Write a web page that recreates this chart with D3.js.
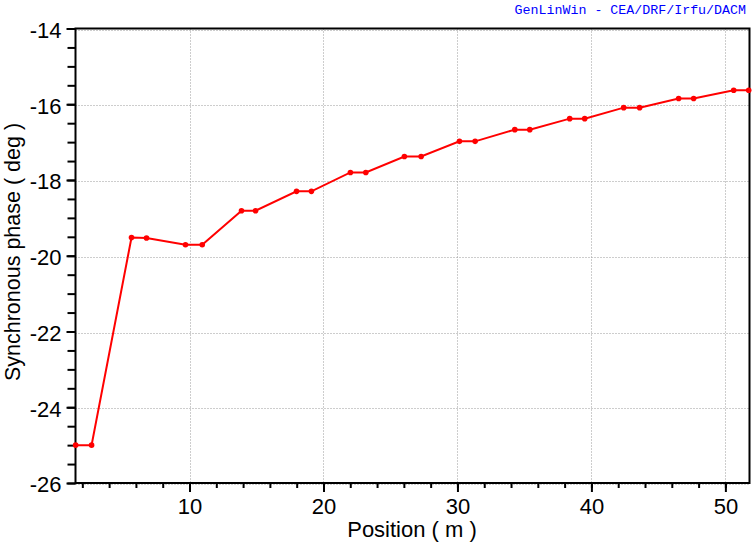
<!DOCTYPE html>
<html>
<head>
<meta charset="utf-8">
<script src="https://cdn.jsdelivr.net/npm/d3@7"></script>
<style>
  html, body { margin: 0; padding: 0; background: #fff; }
  svg { display: block; }
</style>
</head>
<body>
<script>
// Data
const positions = [1.5, 2.69, 5.67, 6.79, 9.70, 10.95, 13.88, 14.93, 17.99, 19.10, 22.01, 23.16, 26.04, 27.29, 30.15, 31.32, 34.28, 35.40, 38.38, 39.50, 42.41, 43.60, 46.51, 47.63, 50.62, 51.74];
const phases    = [-25.0, -25.0, -19.52, -19.53, -19.71, -19.71, -18.81, -18.81, -18.30, -18.30, -17.80, -17.80, -17.38, -17.38, -16.98, -16.98, -16.67, -16.67, -16.38, -16.38, -16.09, -16.09, -15.85, -15.85, -15.63, -15.63];
const xMajorTicks = [10, 20, 30, 40, 50];
const xMinorTicks = d3.range(2, 52, 2);
const yMajorTicks = [-26, -24, -22, -20, -18, -16, -14];
const yMinorTicks = d3.range(-26, -13.9, 0.5);
const xDomain = [1.49, 51.8];
const yDomain = [-26, -14];
const titleText = "GenLinWin - CEA/DRF/Irfu/DACM";
const xLabel = "Position ( m )";
const yLabel = "Synchronous phase ( deg )";

const W = 755, H = 544;
const L = 75.5, R = 749.5, T = 28.5, B = 483;
const font = "'Liberation Sans', Arial, sans-serif";
const fmt = d => String(d);

const svg = d3.select("body").append("svg").attr("width", W).attr("height", H);

const x = d3.scaleLinear().domain(xDomain).range([L, R]);
const y = d3.scaleLinear().domain(yDomain).range([B, T]);

// Grid
const grid = svg.append("g").attr("stroke", "#9a9a9a").attr("stroke-width", 1).attr("stroke-dasharray", "1,2");
grid.selectAll(".gx").data(xMajorTicks).enter().append("line")
  .attr("x1", d => Math.round(x(d)) + 0.5).attr("x2", d => Math.round(x(d)) + 0.5)
  .attr("y1", T).attr("y2", B);
grid.selectAll(".gy").data(yMajorTicks).enter().append("line")
  .attr("x1", L).attr("x2", R)
  .attr("y1", d => Math.round(y(d)) + 1.5).attr("y2", d => Math.round(y(d)) + 1.5);

// Frame
const frame = svg.append("g").attr("stroke", "#000").attr("stroke-width", 2).attr("fill", "none");
frame.append("path").attr("d", `M${L},${T} H${R} V${B} H${L} Z`);

// X axis ticks
const xAxisG = svg.append("g").attr("transform", `translate(0,${B})`);
xAxisG.call(d3.axisBottom(x).tickValues(xMinorTicks).tickSize(5).tickFormat(""))
  .call(g => g.select(".domain").remove())
  .call(g => g.selectAll("line").attr("stroke", "#000").attr("stroke-width", 2));
const xMajG = svg.append("g").attr("transform", `translate(0,${B})`);
xMajG.call(d3.axisBottom(x).tickValues(xMajorTicks).tickSize(9).tickPadding(6).tickFormat(fmt))
  .call(g => g.select(".domain").remove())
  .call(g => g.selectAll("line").attr("stroke", "#000").attr("stroke-width", 2))
  .call(g => g.selectAll("text").attr("font-family", font).attr("font-size", 22).attr("fill", "#000"));

// Y axis ticks
const yAxisG = svg.append("g").attr("transform", `translate(${L},0)`);
yAxisG.call(d3.axisLeft(y).tickValues(yMinorTicks).tickSize(8).tickFormat(""))
  .call(g => g.select(".domain").remove())
  .call(g => g.selectAll("line").attr("stroke", "#000").attr("stroke-width", 2));
const yMajG = svg.append("g").attr("transform", `translate(${L},0)`);
yMajG.call(d3.axisLeft(y).tickValues(yMajorTicks).tickSize(9).tickPadding(5).tickFormat(fmt))
  .call(g => g.select(".domain").remove())
  .call(g => g.selectAll("line").attr("stroke", "#000").attr("stroke-width", 2))
  .call(g => g.selectAll("text").attr("font-family", font).attr("font-size", 22).attr("fill", "#000").attr("dy", "0.40em"));

// Data line
const data = positions.map((p, i) => ({ p, v: phases[i] }));
const line = d3.line().x(d => x(d.p)).y(d => y(d.v));
svg.append("path").datum(data)
  .attr("d", line).attr("fill", "none").attr("stroke", "#ff0000").attr("stroke-width", 2);
svg.append("g").selectAll("circle").data(data).enter().append("circle")
  .attr("cx", d => x(d.p)).attr("cy", d => y(d.v)).attr("r", 2.8).attr("fill", "#ff0000");

// Labels
svg.append("text").attr("x", 412).attr("y", 537).attr("text-anchor", "middle")
  .attr("font-family", font).attr("font-size", 22).attr("fill", "#000").text(xLabel);
svg.append("text").attr("transform", "translate(20,252) rotate(-90)").attr("text-anchor", "middle")
  .attr("font-family", font).attr("font-size", 21.5).attr("fill", "#000").text(yLabel);

// Title
svg.append("text").attr("x", 746).attr("y", 14).attr("text-anchor", "end")
  .attr("font-family", "'Liberation Mono', 'DejaVu Sans Mono', monospace").attr("font-size", 13.3)
  .attr("fill", "#0000ff").text(titleText);
</script>
</body>
</html>
